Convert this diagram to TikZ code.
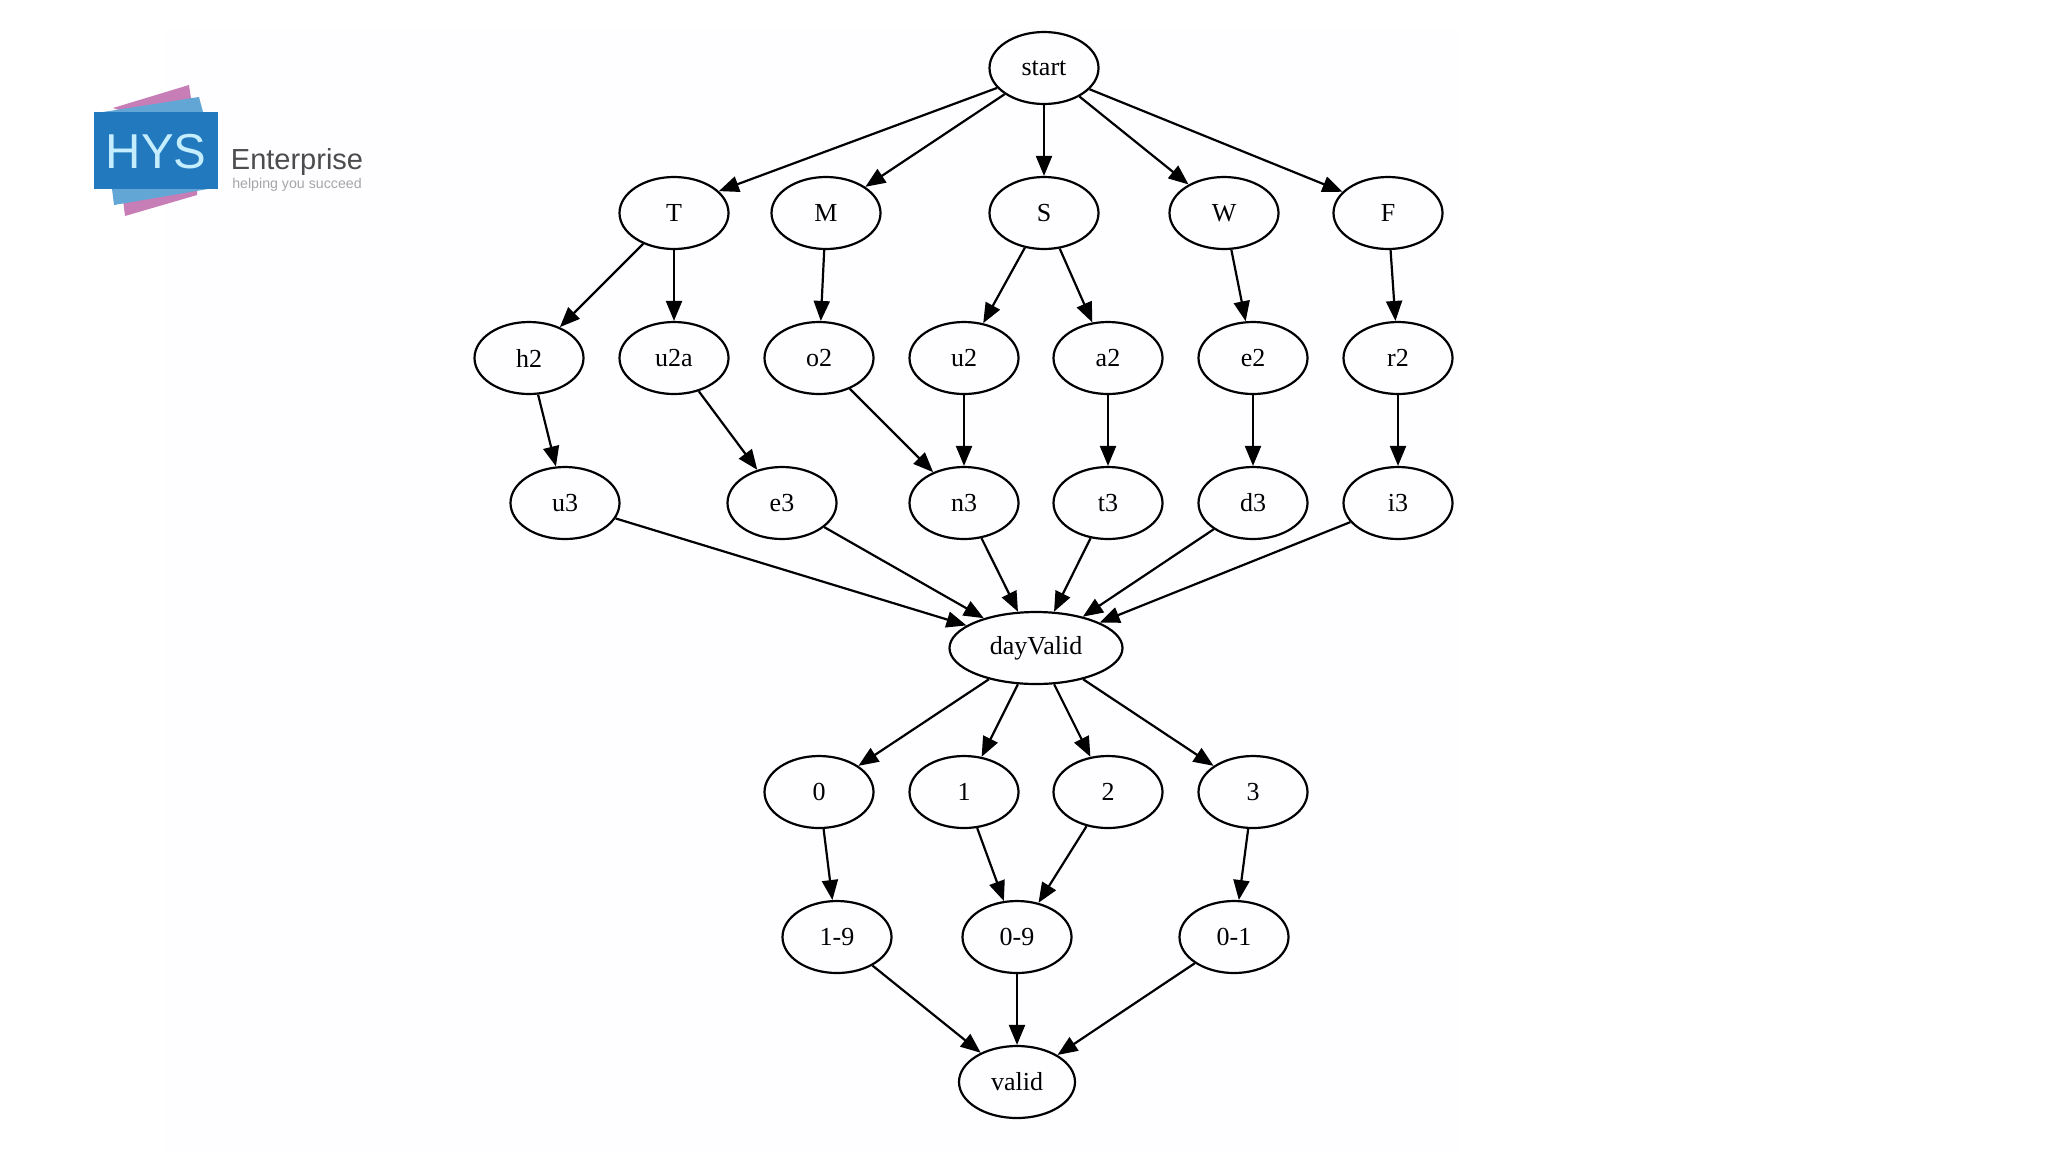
\documentclass[tikz,border=0pt]{standalone}
\usepackage{fontspec}
\setmainfont{Liberation Serif}
\newfontfamily\logofont{Liberation Sans}
\usetikzlibrary{shapes.geometric}
\usetikzlibrary{arrows.meta}
\definecolor{logoblue}{HTML}{2279BE}
\definecolor{logosky}{HTML}{62A6D6}
\definecolor{logopink}{HTML}{C77DB5}
\definecolor{logotext}{HTML}{C4EEFF}
\definecolor{panel}{HTML}{FEFDFF}
\tikzset{
	state/.style={draw,ellipse,line width=1.1pt,minimum width=54.5pt,minimum height=36pt,inner sep=0pt,font=\fontsize{13}{15}\selectfont},
	edge/.style={line width=1.1pt,-{Triangle[length=10pt,width=8pt]}}
}

\begin{document}
\begin{tikzpicture}[x=0.5pt,y=-0.5pt]
	\useasboundingbox (0,0) rectangle (2048,1152);
	\fill [panel] (165,30) rectangle (1460,1152);
	% logo
	\fill [logopink] (113,108) -- (189,85) -- (193,112) -- (125,112) -- cycle;
	\fill [logosky] (103,112) -- (199,97) -- (203,112) -- cycle;
	\fill [logopink] (123,200) -- (125,216) -- (197,195) -- (197,189) -- cycle;
	\fill [logosky] (112,189) -- (208,189) -- (114,205) -- cycle;
	\fill [logoblue] (94,112) rectangle (218,189);
	\node (hys) at (156,152) [inner sep=0pt,text=logotext,font=\logofont\fontsize{24.5}{27}\selectfont] {HYS};
	\node (enterprise) at (297,162) [inner sep=0pt,text=black!70,font=\logofont\fontsize{14.5}{16}\selectfont] {Enterprise};
	\node (slogan) at (297,185) [inner sep=0pt,text=black!35,font=\logofont\fontsize{7.1}{8}\selectfont] {helping you succeed};
	% states
	\node (start) at (1044,68) [state] {start};
	\node (T) at (674,213) [state] {T};
	\node (M) at (826,213) [state] {M};
	\node (S) at (1044,213) [state] {S};
	\node (W) at (1224,213) [state] {W};
	\node (F) at (1388,213) [state] {F};
	\node (h2) at (529,358) [state] {h2};
	\node (u2a) at (674,358) [state] {u2a};
	\node (o2) at (819,358) [state] {o2};
	\node (u2) at (964,358) [state] {u2};
	\node (a2) at (1108,358) [state] {a2};
	\node (e2) at (1253,358) [state] {e2};
	\node (r2) at (1398,358) [state] {r2};
	\node (u3) at (565,503) [state] {u3};
	\node (e3) at (782,503) [state] {e3};
	\node (n3) at (964,503) [state] {n3};
	\node (t3) at (1108,503) [state] {t3};
	\node (d3) at (1253,503) [state] {d3};
	\node (i3) at (1398,503) [state] {i3};
	\node (dayValid) at (1036,648) [state,minimum width=86.5pt] {dayValid};
	\node (d0) at (819,792) [state] {0};
	\node (d1) at (964,792) [state] {1};
	\node (d2) at (1108,792) [state] {2};
	\node (d3b) at (1253,792) [state] {3};
	\node (r19) at (837,937) [state] {1-9};
	\node (r09) at (1017,937) [state] {0-9};
	\node (r01) at (1234,937) [state] {0-1};
	\node (valid) at (1017,1082) [state,minimum width=58pt] {valid};
	% edges
	\draw [edge] (start.203) -- (T.26);
	\draw [edge] (start) -- (M);
	\draw [edge] (start) -- (S);
	\draw [edge] (start) -- (W);
	\draw [edge] (start.-25) -- (F.155);
	\draw [edge] (T) -- (h2);
	\draw [edge] (T) -- (u2a);
	\draw [edge] (M) -- (o2);
	\draw [edge] (S) -- (u2);
	\draw [edge] (S) -- (a2);
	\draw [edge] (W) -- (e2);
	\draw [edge] (F) -- (r2);
	\draw [edge] (h2) -- (u3);
	\draw [edge] (u2a) -- (e3);
	\draw [edge] (o2) -- (n3);
	\draw [edge] (u2) -- (n3);
	\draw [edge] (a2) -- (t3);
	\draw [edge] (e2) -- (d3);
	\draw [edge] (r2) -- (i3);
	\draw [edge] (u3) -- (dayValid.162);
	\draw [edge] (e3) -- (dayValid);
	\draw [edge] (n3) -- (dayValid);
	\draw [edge] (t3) -- (dayValid);
	\draw [edge] (d3) -- (dayValid);
	\draw [edge] (i3) -- (dayValid);
	\draw [edge] (dayValid) -- (d0);
	\draw [edge] (dayValid) -- (d1);
	\draw [edge] (dayValid) -- (d2);
	\draw [edge] (dayValid) -- (d3b);
	\draw [edge] (d0) -- (r19);
	\draw [edge] (d1) -- (r09);
	\draw [edge] (d2) -- (r09);
	\draw [edge] (d3b) -- (r01);
	\draw [edge] (r19) -- (valid);
	\draw [edge] (r09) -- (valid);
	\draw [edge] (r01) -- (valid);
\end{tikzpicture}
\end{document}
